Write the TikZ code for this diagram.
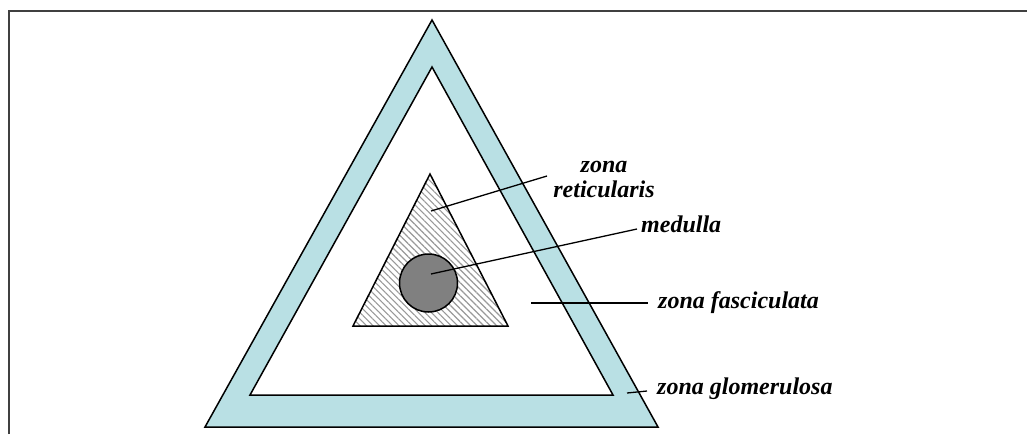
\documentclass[tikz,border=0pt]{standalone}
\usepackage{fontspec}
\setmainfont{Liberation Serif}
\usetikzlibrary{patterns.meta}
\definecolor{glom}{RGB}{185,224,228}
\definecolor{frame}{RGB}{64,64,64}
\definecolor{medgray}{RGB}{128,128,128}
\tikzset{
  lbl/.style={font=\fontsize{24}{25}\selectfont\bfseries\itshape, inner sep=0pt, align=center},
  leader/.style={draw=black, line width=1.3pt},
  zone/.style={draw=black, line width=1.5pt, line join=miter}
}
\begin{document}
\begin{tikzpicture}[x=1pt,y=-1pt]
\useasboundingbox (0,0) rectangle (1027,434);
% frame
\draw[frame, line width=2pt] (9,434) -- (9,11) -- (1027,11);
% outer triangle (zona glomerulosa)
\draw[zone, fill=glom] (432,20) -- (205,427) -- (658,427) -- cycle;
% inner white triangle (zona fasciculata)
\draw[zone, fill=white] (432,67) -- (250,395) -- (613,395) -- cycle;
% hatched triangle (zona reticularis)
\fill[pattern={Lines[angle=-45,distance=4.6pt,line width=1.1pt]}, pattern color=gray!80] (430,174) -- (353,326) -- (508,326) -- cycle;
\draw[zone] (430,174) -- (353,326) -- (508,326) -- cycle;
% medulla
\node[circle, draw=black, line width=1.5pt, fill=medgray, minimum size=58pt, inner sep=0pt] (med) at (428.5,283) {};
% labels
\node[lbl] (lret) at (604,179) {zona\\reticularis};
\node[lbl, anchor=west] (lmed) at (641,224) {medulla};
\node[lbl, anchor=west] (lfas) at (658,303) {zona fasciculata};
\node[lbl, anchor=west] (lglo) at (657,389) {zona glomerulosa};
% leader endpoints
\coordinate (pret) at (431,211);
\coordinate (pretend) at (547,176);
\coordinate (pmed) at (431,274);
\coordinate (pmedend) at (637,229);
\coordinate (pfas) at (531,303);
\coordinate (pfasend) at (648,303);
\coordinate (pglo) at (627,393);
\coordinate (pgloend) at (647,391);
\draw[leader] (pret) -- (pretend);
\draw[leader] (pmed) -- (pmedend);
\draw[leader] (pfas) -- (pfasend);
\draw[leader] (pglo) -- (pgloend);
\end{tikzpicture}
\end{document}
